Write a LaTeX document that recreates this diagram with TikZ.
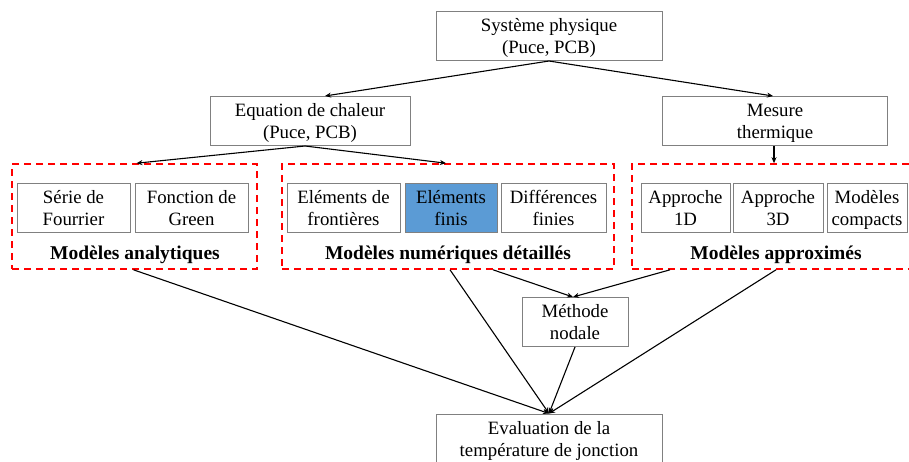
\documentclass[tikz,border=0pt]{standalone}
\usepackage{fontspec}
\setmainfont{Liberation Serif}
\usepackage{xcolor}
\usepackage{tikz}
\usetikzlibrary{arrows.meta}

\definecolor{boxgray}{RGB}{128,128,128}
\definecolor{finisblue}{RGB}{91,155,213}

\tikzset{
  box/.style={draw=boxgray, line width=1pt, align=center, inner sep=0pt,
    minimum height=49pt, text depth=-5pt, font=\fontsize{18.8}{22}\selectfont},
  groupbox/.style={draw=red, line width=1.6pt, dash pattern=on 7pt off 5pt,
    minimum height=105pt, inner sep=0pt},
  grouplabel/.style={font=\fontsize{19.5}{22}\selectfont\bfseries},
  link/.style={line width=1.1pt, -{Stealth[length=6pt,width=5pt]}}
}

\begin{document}
\begin{tikzpicture}[x=1pt,y=-1pt]
    % Frame of the picture
    \clip (0,0) rectangle (909,461);
    \fill[white] (0,0) rectangle (909,461);

    % Top and second row
    \node[box, minimum width=226pt] (sys) at (549,36) {Système physique\\(Puce, PCB)};
    \node[box, minimum width=200pt] (eq) at (310,121) {Equation de chaleur\\(Puce, PCB)};
    \node[box, minimum width=225pt] (mes) at (775,121) {Mesure\\thermique};

    % Dashed groups
    \node[groupbox, minimum width=245pt] (ana) at (134.5,216.5) {};
    \node[groupbox, minimum width=332pt] (num) at (448,216.5) {};
    \node[groupbox, minimum width=290pt] (app) at (777,216.5) {};

    % Methods inside the groups
    \node[box, minimum width=113pt] (fourier) at (73.5,207.5) {Série de\\Fourrier};
    \node[box, minimum width=113pt] (green) at (191.5,207.5) {Fonction de\\Green};
    \node[box, minimum width=113pt] (front) at (343.5,207.5) {Eléments de\\frontières};
    \node[box, minimum width=92pt, fill=finisblue] (finis) at (451,207.5) {Eléments\\finis};
    \node[box, minimum width=105pt] (diff) at (553.5,207.5) {Différences\\finies};
    \node[box, minimum width=89pt] (a1d) at (685.5,207.5) {Approche\\1D};
    \node[box, minimum width=90pt] (a3d) at (778,207.5) {Approche\\3D};
    \node[box, minimum width=80pt] (compact) at (867,207.5) {Modèles\\compacts};

    % Group labels
    \node[grouplabel] (anal) at (135,255) {Modèles analytiques};
    \node[grouplabel] (numl) at (448,255) {Modèles numériques détaillés};
    \node[grouplabel] (appl) at (776,255) {Modèles approximés};

    % Bottom
    \node[box, minimum width=106pt] (nodal) at (575,322) {Méthode\\nodale};
    \node[box, minimum width=226pt, minimum height=50pt] (eval) at (549,439) {Evaluation de la\\température de jonction};

    % Connectors
    \draw[link] (sys.south) -- ([xshift=15pt]eq.north);
    \draw[link] (sys.south) -- ([xshift=-2pt]mes.north);
    \draw[link] ([xshift=-5pt]eq.south) -- ([xshift=2pt]ana.north);
    \draw[link] ([xshift=-5pt]eq.south) -- ([xshift=-2pt]num.north);
    \draw[link] ([xshift=-1pt]mes.south) -- ([xshift=-3pt]app.north);

    \draw[link] ([xshift=45pt]num.south) -- ([xshift=-2pt]nodal.north);
    \draw[link] ([xshift=-107pt]app.south) -- ([xshift=-2pt]nodal.north);

    \draw[link] ([xshift=-1pt]ana.south) -- (eval.north);
    \draw[link] ([xshift=2pt]num.south) -- (eval.north);
    \draw[link] (nodal.south) -- (eval.north);
    \draw[link] ([xshift=-1pt]app.south) -- (eval.north);
\end{tikzpicture}
\end{document}
